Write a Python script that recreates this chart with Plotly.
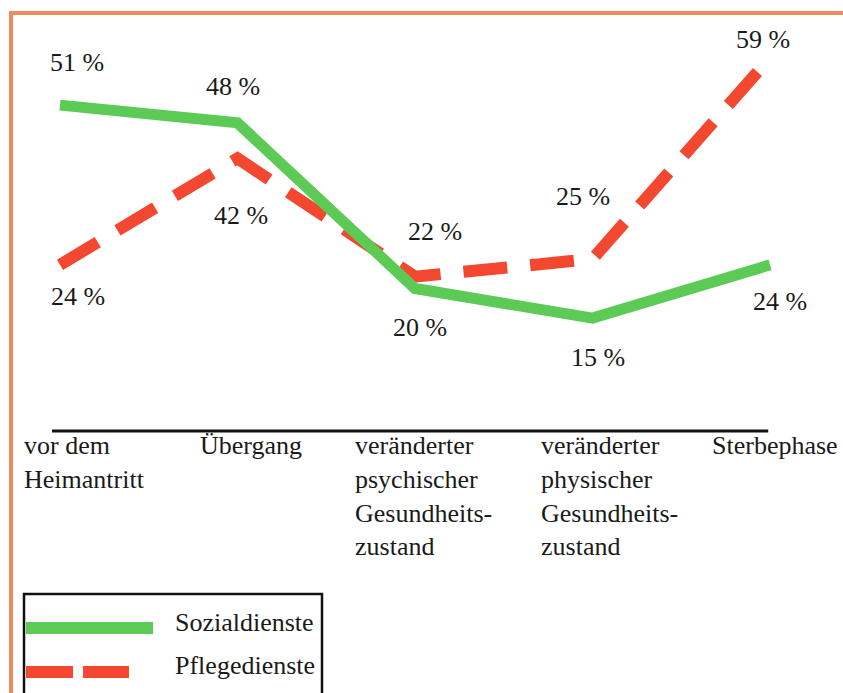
import plotly.graph_objects as go

# ---- data ----
categories = [
    "vor dem<br>Heimantritt",
    "Übergang",
    "veränderter<br>psychischer<br>Gesundheits-<br>zustand",
    "veränderter<br>physischer<br>Gesundheits-<br>zustand",
    "Sterbephase",
]
sozialdienste = [51, 48, 20, 15, 24]
pflegedienste = [24, 42, 22, 25, 59]
series_names = ["Sozialdienste", "Pflegedienste"]

# ---- styling / layout ----
W, H = 843, 693
ML, MR, MT, MB = 30, 43, 17, 262
PW, PH = W - ML - MR, H - MT - MB
GREEN = "#5CCB55"
RED = "#F4472F"
BORDER = "#EE8A5E"
TXT = "#1a1a1a"
FONT = "Liberation Serif"
FS = 26

def px(x):  # screen pixel -> paper
    return (x - ML) / PW

def py(y):
    return (MT + PH - y) / PH

x = list(range(len(categories)))

fig = go.Figure()
fig.add_trace(go.Scatter(x=x, y=pflegedienste, mode="lines", name=series_names[1],
                         line=dict(color=RED, width=12, dash="44px,23px"),
                         hoverinfo="skip"))
fig.add_trace(go.Scatter(x=x, y=sozialdienste, mode="lines", name=series_names[0],
                         line=dict(color=GREEN, width=11),
                         hoverinfo="skip"))

annotations = []
# value labels
soz_off = [(17, 43), (-5, 36), (5, -39), (5, -39), (10, -37)]
pfl_off = [(18, -32), (3, -57), (20, 45), (-10, 62), (-7, 18)]
for vals, offs in ((sozialdienste, soz_off), (pflegedienste, pfl_off)):
    for i, (v, (dx, dy)) in enumerate(zip(vals, offs)):
        annotations.append(dict(x=i, y=v, xref="x", yref="y", text=f"{v} %",
                                showarrow=False, xshift=dx, yshift=dy,
                                font=dict(family=FONT, size=FS, color=TXT)))

# category labels
cat_shift = [-38, -40, -62, -54, -60]
for i, (c, s) in enumerate(zip(categories, cat_shift)):
    annotations.append(dict(x=i, y=0, xref="x", yref="paper", text=c,
                            showarrow=False, xanchor="left", yanchor="top",
                            align="left", xshift=s, yshift=2,
                            font=dict(family=FONT, size=FS, color=TXT)))

# legend texts
annotations.append(dict(x=px(173), y=py(622), xref="paper", yref="paper",
                        text=series_names[0], showarrow=False, xanchor="left",
                        yanchor="middle",
                        font=dict(family=FONT, size=FS, color=TXT)))
annotations.append(dict(x=px(173), y=py(666), xref="paper", yref="paper",
                        text=series_names[1], showarrow=False, xanchor="left",
                        yanchor="middle",
                        font=dict(family=FONT, size=FS, color=TXT)))

shapes = [
    # axis baseline
    dict(type="line", xref="x", yref="paper", x0=-0.045, x1=3.99, y0=0, y1=0,
         line=dict(color="#111111", width=3)),
    # orange page border
    dict(type="line", xref="paper", yref="paper", x0=px(9), x1=px(850),
         y0=py(13), y1=py(13), line=dict(color=BORDER, width=4)),
    dict(type="line", xref="paper", yref="paper", x0=px(11), x1=px(11),
         y0=py(11), y1=py(700), line=dict(color=BORDER, width=4)),
    # legend box
    dict(type="rect", xref="paper", yref="paper", x0=px(24), x1=px(322),
         y0=py(594), y1=py(705), line=dict(color="#111111", width=2.5)),
    dict(type="line", xref="paper", yref="paper", x0=px(26), x1=px(153),
         y0=py(628), y1=py(628), line=dict(color=GREEN, width=12)),
    dict(type="line", xref="paper", yref="paper", x0=px(26), x1=px(73),
         y0=py(672), y1=py(672), line=dict(color=RED, width=12)),
    dict(type="line", xref="paper", yref="paper", x0=px(83), x1=px(129),
         y0=py(672), y1=py(672), line=dict(color=RED, width=12)),
]

fig.update_layout(
    width=W, height=H,
    margin=dict(l=ML, r=MR, t=MT, b=MB, pad=0),
    paper_bgcolor="white", plot_bgcolor="white",
    showlegend=False,
    xaxis=dict(range=[-30 / 177.5, 740 / 177.5], visible=False, fixedrange=True),
    yaxis=dict(range=[-4.09, 65.9], visible=False, fixedrange=True),
    annotations=annotations,
    shapes=shapes,
)

fig.write_html(
    "out.html",
    config={"displayModeBar": False},
    post_script="document.body.style.margin='0';document.body.style.overflow='hidden';",
)
